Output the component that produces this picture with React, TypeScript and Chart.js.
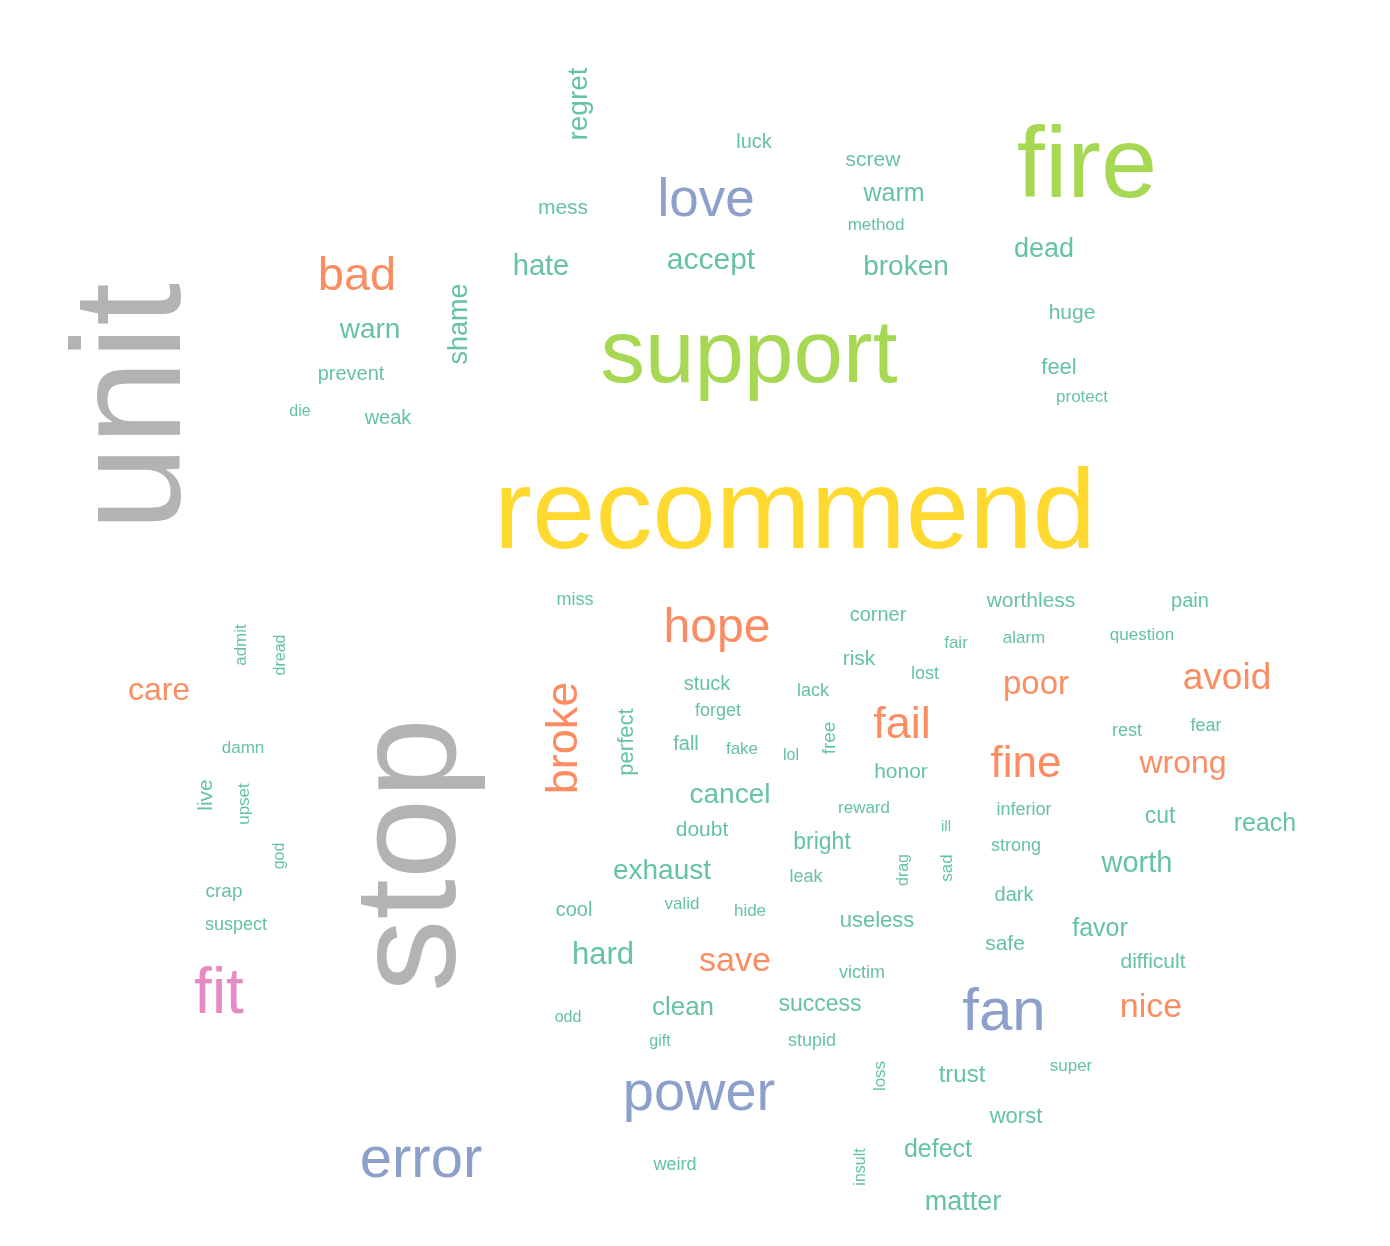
import React, { useEffect, useRef } from 'react';
import { Chart, registerables, Plugin } from 'chart.js';

Chart.register(...registerables);

const WIDTH = 1390;
const HEIGHT = 1246;

const palette = ['#66c2a5', '#fc8d62', '#8da0cb', '#a6d854', '#ffd92f', '#b3b3b3', '#e78ac3'];

// word, x centre, y baseline (or baseline x / centre y when rotated), font size, colour index, rotated
const words = [
  'regret', 'luck', 'screw', 'warm', 'method', 'fire', 'mess', 'love', 'hate', 'accept',
  'broken', 'dead', 'bad', 'shame', 'warn', 'support', 'huge', 'feel', 'prevent', 'protect',
  'die', 'weak', 'unit', 'recommend', 'miss', 'hope', 'corner', 'worthless', 'pain', 'fair',
  'alarm', 'question', 'admit', 'dread', 'care', 'risk', 'lost', 'poor', 'avoid', 'stuck',
  'lack', 'forget', 'broke', 'perfect', 'fail', 'rest', 'fear', 'fall', 'fake', 'lol',
  'free', 'damn', 'fine', 'wrong', 'honor', 'live', 'upset', 'cancel', 'reward', 'inferior',
  'ill', 'cut', 'reach', 'doubt', 'bright', 'strong', 'god', 'worth', 'exhaust', 'leak',
  'drag', 'sad', 'dark', 'crap', 'cool', 'valid', 'hide', 'useless', 'suspect', 'favor',
  'safe', 'difficult', 'hard', 'save', 'victim', 'fit', 'fan', 'nice', 'clean', 'success',
  'odd', 'gift', 'stupid', 'power', 'loss', 'trust', 'super', 'worst', 'error', 'defect',
  'weird', 'insult', 'matter', 'stop',
];
const xs = [
  587, 754, 873, 894, 876, 1087, 563, 706, 541, 711,
  906, 1044, 357, 467, 370, 749, 1072, 1059, 351, 1082,
  300, 388, 180, 795, 575, 717, 878, 1031, 1190, 956,
  1024, 1142, 246, 285, 159, 859, 925, 1036, 1227, 707,
  813, 718, 577, 633, 902, 1127, 1206, 686, 742, 791,
  835, 243, 1026, 1183, 901, 212, 249, 730, 864, 1024,
  946, 1160, 1265, 702, 822, 1016, 284, 1137, 662, 806,
  908, 952, 1014, 224, 574, 682, 750, 877, 236, 1100,
  1005, 1153, 603, 735, 862, 219, 1004, 1151, 683, 820,
  568, 660, 812, 699, 885, 962, 1071, 1016, 421, 938,
  675, 865, 963, 455,
];
const ys = [
  104, 148, 166, 201, 230, 197, 214, 216, 275, 269,
  275, 257, 290, 324, 338, 382, 319, 374, 380, 402,
  416, 424, 407, 548, 605, 642, 621, 607, 607, 648,
  643, 640, 645, 655, 700, 665, 679, 694, 689, 690,
  696, 716, 738, 742, 738, 736, 731, 750, 754, 760,
  738, 753, 777, 773, 778, 795, 804, 803, 813, 815,
  831, 823, 831, 836, 849, 851, 856, 872, 879, 882,
  870, 868, 901, 897, 916, 909, 916, 927, 930, 936,
  950, 968, 964, 971, 978, 1013, 1030, 1017, 1015, 1011,
  1022, 1046, 1046, 1110, 1076, 1082, 1071, 1123, 1177, 1157,
  1170, 1167, 1210, 855,
];
const sizes = [
  28, 20, 21, 25, 17, 101, 21, 53, 29, 30,
  28, 27, 47, 27, 28, 89, 21, 22, 20, 17,
  16, 20, 154, 114, 18, 48, 20, 21, 20, 17,
  17, 17, 17, 16, 32, 21, 18, 33, 37, 20,
  18, 18, 45, 22, 45, 18, 18, 20, 17, 16,
  19, 17, 44, 32, 21, 21, 17, 28, 17, 18,
  15, 23, 25, 21, 23, 18, 16, 29, 28, 18,
  16, 17, 20, 19, 20, 17, 17, 22, 18, 25,
  21, 21, 31, 34, 18, 64, 60, 34, 26, 23,
  16, 16, 18, 56, 17, 24, 17, 22, 58, 25,
  18, 16, 27, 145,
];
const colors = [
  0, 0, 0, 0, 0, 3, 0, 2, 0, 0,
  0, 0, 1, 0, 0, 3, 0, 0, 0, 0,
  0, 0, 5, 4, 0, 1, 0, 0, 0, 0,
  0, 0, 0, 0, 1, 0, 0, 1, 1, 0,
  0, 0, 1, 0, 1, 0, 0, 0, 0, 0,
  0, 0, 1, 1, 0, 0, 0, 0, 0, 0,
  0, 0, 0, 0, 0, 0, 0, 0, 0, 0,
  0, 0, 0, 0, 0, 0, 0, 0, 0, 0,
  0, 0, 0, 1, 0, 6, 2, 1, 0, 0,
  0, 0, 0, 2, 0, 0, 0, 0, 2, 0,
  0, 0, 0, 5,
];
const rotated = [
  'regret', 'shame', 'unit', 'admit', 'dread', 'broke', 'perfect', 'free', 'live', 'upset',
  'god', 'drag', 'sad', 'loss', 'insult', 'stop',
];

const wordPlugin: Plugin<'scatter'> = {
  id: 'wordText',
  afterDatasetsDraw(chart) {
    const ctx = chart.ctx;
    const xScale = chart.scales.x;
    const yScale = chart.scales.y;
    words.forEach((w, i) => {
      const px = xScale.getPixelForValue(xs[i]);
      const py = yScale.getPixelForValue(ys[i]);
      ctx.save();
      ctx.fillStyle = palette[colors[i]];
      ctx.font = `${sizes[i]}px "Liberation Sans", Arial, sans-serif`;
      ctx.textAlign = 'center';
      ctx.textBaseline = 'alphabetic';
      ctx.translate(px, py);
      if (rotated.includes(w)) ctx.rotate(-Math.PI / 2);
      ctx.fillText(w, 0, 0);
      ctx.restore();
    });
  },
};

const App: React.FC = () => {
  const canvasRef = useRef<HTMLCanvasElement | null>(null);
  const chartRef = useRef<Chart | null>(null);

  useEffect(() => {
    document.body.style.margin = '0';
    if (!canvasRef.current) return;
    if (chartRef.current) chartRef.current.destroy();
    chartRef.current = new Chart(canvasRef.current, {
      type: 'scatter',
      data: {
        datasets: [{
          data: words.map((_, i) => ({ x: xs[i], y: ys[i] })),
          pointRadius: 0,
        }],
      },
      options: {
        animation: false,
        responsive: false,
        layout: { padding: 0 },
        plugins: { legend: { display: false }, tooltip: { enabled: false } },
        scales: {
          x: { display: false, min: 0, max: WIDTH },
          y: { display: false, min: 0, max: HEIGHT, reverse: true },
        },
      },
      plugins: [wordPlugin],
    });
    return () => {
      if (chartRef.current) chartRef.current.destroy();
    };
  }, []);

  return (
    <div style={{ width: WIDTH, height: HEIGHT, background: '#fff' }}>
      <canvas ref={canvasRef} width={WIDTH} height={HEIGHT}></canvas>
    </div>
  );
};

export default App;
